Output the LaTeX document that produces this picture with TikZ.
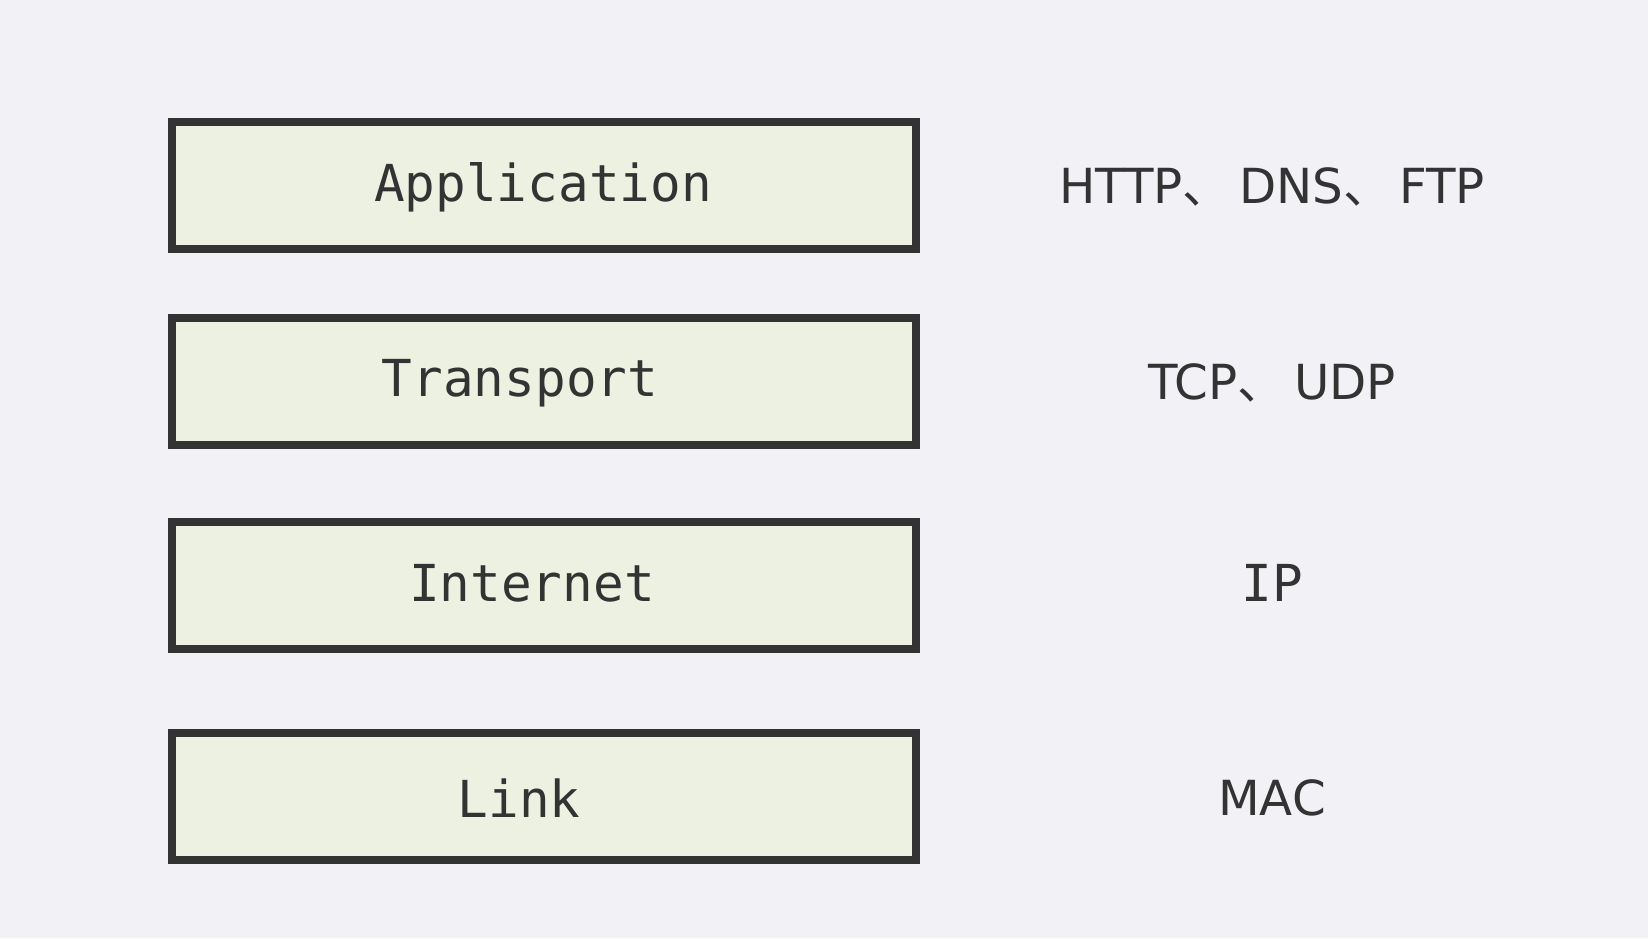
\documentclass[tikz,border=0pt]{standalone}
\usepackage{fontspec}
\setmonofont{DejaVu Sans Mono}
\newfontfamily\protofont{DejaVu Sans}
\newfontfamily\cjk{Noto Sans CJK SC}
\newcommand{\dun}{{\cjk 、}}
\definecolor{bgcol}{RGB}{242,241,246}
\definecolor{layerfill}{RGB}{237,241,226}
\definecolor{inkcol}{RGB}{51,51,51}

\begin{document}
\begin{tikzpicture}[x=0.02cm,y=-0.02cm,
    layer/.style={draw=inkcol, line width=4.3pt, fill=layerfill,
        minimum width=14.88cm, minimum height=2.55cm, inner sep=0pt},
    layername/.style={text=inkcol, font=\ttfamily\fontsize{29}{34}\selectfont},
    proto/.style={text=inkcol, font=\protofont\fontsize{27.5}{34}\selectfont}]

    \fill[bgcol] (0,0) rectangle (1648,938);

    \node[layer] (app) at (544,185.5) {};
    \node[layer] (trans) at (544,381.5) {};
    \node[layer] (inet) at (544,585.5) {};
    \node[layer] (link) at (544,796.5) {};

    \node[layername] (apptxt) at (543,187) {Application};
    \node[layername] (transtxt) at (520,383) {Transport};
    \node[layername] (inettxt) at (532,583) {Internet};
    \node[layername] (linktxt) at (519,798) {Link};

    \node[proto] (appproto) at (1272,187) {HTTP\dun\,DNS\dun\,FTP};
    \node[proto] (transproto) at (1272,383) {TCP\dun\,UDP};
    \node[layername] (inetproto) at (1272,583) {IP};
    \node[proto] (linkproto) at (1272,798) {MAC};

\end{tikzpicture}
\end{document}
